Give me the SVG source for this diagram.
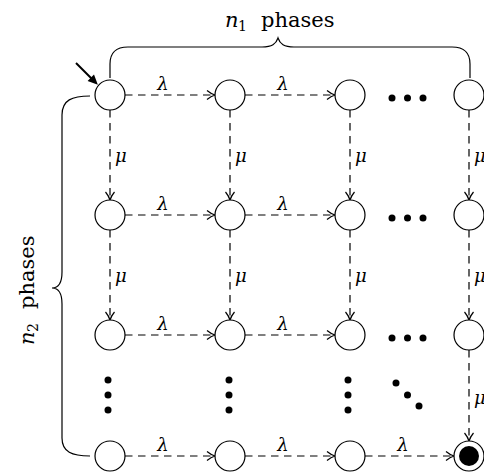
<svg xmlns="http://www.w3.org/2000/svg" width="484" height="472" viewBox="0 0 484 472">
<style>
.node{fill:#fff;stroke:#000;stroke-width:1.2}
.edge{fill:none;stroke:#000;stroke-width:1.2;stroke-dasharray:7.5 5.5;marker-end:url(#to)}
.brace{fill:none;stroke:#000;stroke-width:1.2}
.lbl{font-family:"DejaVu Serif",serif;font-style:italic;font-size:18px;fill:#000}
.lh{text-anchor:middle}
.title{font-family:"DejaVu Serif",serif;font-size:21px;fill:#000}
.dot{fill:#000}
</style>
<defs>
<marker id="to" markerUnits="userSpaceOnUse" markerWidth="12" markerHeight="12" viewBox="-10 -6 12 12" refX="0" refY="0" orient="auto">
<path d="M-8,-4.5 C-5,-2 -2,-0.6 0,0 C-2,0.6 -5,2 -8,4.5" fill="none" stroke="#000" stroke-width="1.2"/>
</marker>
<marker id="init" markerUnits="userSpaceOnUse" markerWidth="14" markerHeight="12" viewBox="-2 -6 14 12" refX="0" refY="0" orient="auto">
<path d="M-1,-4.5 L9,0 L-1,4.5 Z" fill="#000"/>
</marker>
</defs>

<g id="braces">
<path class="brace" d="M110,78 L110,64 C110,52 116,47 128,47 L262,47 C272,47 276,44 278,38 C280,44 284,47 294,47 L452,47 C464,47 470,52 470,64 L470,78"/>
<path class="brace" d="M90,96 C72,96 62,100 62,115 L62,272 C62,283 58,288 52,288 C58,288 62,293 62,304 L62,438 C62,452 72,456 90,456"/>
<text class="title" y="27"><tspan x="225" font-style="italic">n</tspan><tspan x="238" y="31" font-size="14">1</tspan><tspan x="261" y="27">phases</tspan></text>
<text class="title" transform="translate(34,290) rotate(-90)" y="0"><tspan x="-55" font-style="italic">n</tspan><tspan x="-42" y="4" font-size="14">2</tspan><tspan x="-19" y="0">phases</tspan></text>
</g>

<g id="connectors">
<line x1="76" y1="63" x2="91.5" y2="78.5" stroke="#000" stroke-width="2" marker-end="url(#init)"/>
<line class="edge" x1="125" y1="95" x2="215" y2="95"/>
<line class="edge" x1="245" y1="95" x2="335" y2="95"/>
<line class="edge" x1="125" y1="215" x2="215" y2="215"/>
<line class="edge" x1="245" y1="215" x2="335" y2="215"/>
<line class="edge" x1="125" y1="335" x2="215" y2="335"/>
<line class="edge" x1="245" y1="335" x2="335" y2="335"/>
<line class="edge" x1="125" y1="456" x2="215" y2="456"/>
<line class="edge" x1="245" y1="456" x2="335" y2="456"/>
<line class="edge" x1="365" y1="456" x2="454" y2="456"/>
<line class="edge" x1="110" y1="110" x2="110" y2="200"/>
<line class="edge" x1="110" y1="230" x2="110" y2="320"/>
<line class="edge" x1="230" y1="110" x2="230" y2="200"/>
<line class="edge" x1="230" y1="230" x2="230" y2="320"/>
<line class="edge" x1="350" y1="110" x2="350" y2="200"/>
<line class="edge" x1="350" y1="230" x2="350" y2="320"/>
<line class="edge" x1="469" y1="110" x2="469" y2="200"/>
<line class="edge" x1="469" y1="230" x2="469" y2="320"/>
<line class="edge" x1="469" y1="350" x2="469" y2="441"/>
<text class="lbl lh" x="163" y="90">λ</text>
<text class="lbl lh" x="283" y="90">λ</text>
<text class="lbl lh" x="163" y="210">λ</text>
<text class="lbl lh" x="283" y="210">λ</text>
<text class="lbl lh" x="163" y="330">λ</text>
<text class="lbl lh" x="283" y="330">λ</text>
<text class="lbl lh" x="163" y="451">λ</text>
<text class="lbl lh" x="283" y="451">λ</text>
<text class="lbl lh" x="403" y="451">λ</text>
<text class="lbl" x="115" y="162">μ</text>
<text class="lbl" x="115" y="282">μ</text>
<text class="lbl" x="235" y="162">μ</text>
<text class="lbl" x="235" y="282">μ</text>
<text class="lbl" x="355" y="162">μ</text>
<text class="lbl" x="355" y="282">μ</text>
<text class="lbl" x="474" y="162">μ</text>
<text class="lbl" x="474" y="282">μ</text>
<text class="lbl" x="474" y="404">μ</text>
</g>

<g id="n11"><circle class="node" cx="110" cy="95" r="15"/></g>
<g id="n12"><circle class="node" cx="230" cy="95" r="15"/></g>
<g id="n13"><circle class="node" cx="350" cy="95" r="15"/></g>
<g id="n14"><circle class="node" cx="469" cy="95" r="15"/></g>
<g id="n21"><circle class="node" cx="110" cy="215" r="15"/></g>
<g id="n22"><circle class="node" cx="230" cy="215" r="15"/></g>
<g id="n23"><circle class="node" cx="350" cy="215" r="15"/></g>
<g id="n24"><circle class="node" cx="469" cy="215" r="15"/></g>
<g id="n31"><circle class="node" cx="110" cy="335" r="15"/></g>
<g id="n32"><circle class="node" cx="230" cy="335" r="15"/></g>
<g id="n33"><circle class="node" cx="350" cy="335" r="15"/></g>
<g id="n34"><circle class="node" cx="469" cy="335" r="15"/></g>
<g id="n41"><circle class="node" cx="110" cy="456" r="15"/></g>
<g id="n42"><circle class="node" cx="230" cy="456" r="15"/></g>
<g id="n43"><circle class="node" cx="350" cy="456" r="15"/></g>
<g id="n44"><circle class="node" cx="469" cy="456" r="15"/><circle cx="469" cy="456" r="10" fill="#000"/></g>

<g id="dots">
<circle class="dot" cx="392" cy="98" r="3.5"/><circle class="dot" cx="407.5" cy="98" r="3.5"/><circle class="dot" cx="423" cy="98" r="3.5"/>
<circle class="dot" cx="392" cy="218" r="3.5"/><circle class="dot" cx="407.5" cy="218" r="3.5"/><circle class="dot" cx="423" cy="218" r="3.5"/>
<circle class="dot" cx="392" cy="338" r="3.5"/><circle class="dot" cx="407.5" cy="338" r="3.5"/><circle class="dot" cx="423" cy="338" r="3.5"/>
<circle class="dot" cx="108" cy="380" r="3.5"/><circle class="dot" cx="108" cy="395" r="3.5"/><circle class="dot" cx="108" cy="410" r="3.5"/>
<circle class="dot" cx="229" cy="380" r="3.5"/><circle class="dot" cx="229" cy="395" r="3.5"/><circle class="dot" cx="229" cy="410" r="3.5"/>
<circle class="dot" cx="348" cy="380" r="3.5"/><circle class="dot" cx="348" cy="395" r="3.5"/><circle class="dot" cx="348" cy="410" r="3.5"/>
<circle class="dot" cx="396" cy="383" r="3.5"/><circle class="dot" cx="407.5" cy="395" r="3.5"/><circle class="dot" cx="419" cy="406" r="3.5"/>
</g>
</svg>
